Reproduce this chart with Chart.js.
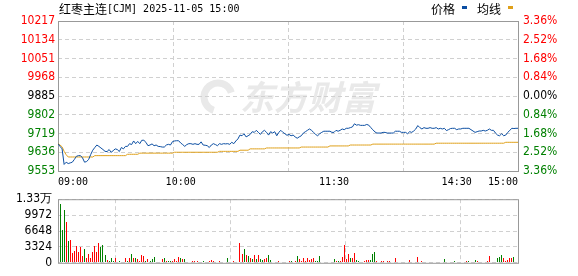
<!DOCTYPE html>
<html>
<head>
<meta charset="utf-8">
<script src="https://cdn.jsdelivr.net/npm/chart.js@4.4.1/dist/chart.umd.min.js"></script>
<style>
  html, body { margin: 0; padding: 0; background: #fff; }
  #wrap { position: relative; width: 578px; height: 276px; overflow: hidden; }
  #priceCanvas { position: absolute; left: 0; top: 0; }
  #volCanvas { position: absolute; left: 0; top: 186px; }
</style>
</head>
<body>
<div id="wrap">
  <canvas id="priceCanvas" width="578" height="196"></canvas>
  <canvas id="volCanvas" width="578" height="90"></canvas>
</div>
<script>
// 标题与图例
const titleName = "红枣主连";
const titleRest = "[CJM] 2025-11-05 15:00";
const legendNames = ["价格", "均线"];

// 价格轴 (昨收 9885)
const preClose = 9885;
const priceTicks = [9553, 9636, 9719, 9802, 9885, 9968, 10051, 10134, 10217];
const pctLabels = ["3.36%", "2.52%", "1.68%", "0.84%", "0.00%", "0.84%", "1.68%", "2.52%", "3.36%"];

// 时间轴 (分钟序号)
const timeTicks = [0, 60, 135, 195, 225];
const timeLabels = ["09:00", "10:00", "11:30", "14:30", "15:00"];
const gridTicks = [56.25, 112.5, 168.75];

// 成交量轴
const volTicks = [0, 3324, 6648, 9972, 13296];
const volLabels = ["0", "3324", "6648", "9972", "1.33万"];

// 每分钟价格
const prices = [
  9674, 9662, 9651, 9582, 9592, 9586, 9589, 9592, 9604, 9618,
  9621, 9621, 9611, 9592, 9595, 9604, 9626, 9645, 9657, 9668,
  9662, 9655, 9648, 9640, 9639, 9648, 9636, 9643, 9651, 9648,
  9639, 9657, 9651, 9662, 9662, 9674, 9670, 9686, 9674, 9684,
  9674, 9689, 9689, 9680, 9665, 9668, 9673, 9665, 9668, 9662,
  9661, 9659, 9659, 9668, 9671, 9668, 9683, 9686, 9687, 9687,
  9677, 9670, 9662, 9670, 9674, 9674, 9671, 9674, 9671, 9671,
  9682, 9668, 9667, 9665, 9657, 9668, 9674, 9670, 9665, 9674,
  9671, 9674, 9673, 9674, 9671, 9680, 9674, 9686, 9695, 9712,
  9709, 9718, 9704, 9709, 9715, 9727, 9724, 9733, 9724, 9715,
  9727, 9733, 9724, 9712, 9727, 9721, 9727, 9709, 9724, 9733,
  9724, 9718, 9711, 9715, 9709, 9712, 9704, 9698, 9704, 9709,
  9721, 9727, 9733, 9739, 9733, 9724, 9715, 9709, 9718, 9724,
  9729, 9729, 9729, 9729, 9724, 9724, 9733, 9729, 9733, 9739,
  9736, 9742, 9742, 9745, 9748, 9762, 9756, 9758, 9755, 9755,
  9755, 9759, 9756, 9745, 9736, 9726, 9721, 9721, 9721, 9724,
  9724, 9721, 9721, 9721, 9721, 9729, 9729, 9729, 9724, 9724,
  9724, 9718, 9727, 9724, 9730, 9739, 9754, 9745, 9739, 9745,
  9742, 9742, 9745, 9742, 9742, 9745, 9739, 9742, 9739, 9742,
  9732, 9736, 9741, 9742, 9742, 9736, 9739, 9739, 9742, 9742,
  9742, 9742, 9736, 9730, 9724, 9727, 9730, 9730, 9733, 9730,
  9733, 9739, 9733, 9733, 9721, 9712, 9709, 9718, 9709, 9712,
  9724, 9733, 9742, 9741, 9742, 9742
];

// 均价线
const avgPrices = [
  9674, 9668, 9660, 9640, 9625, 9615, 9615, 9615, 9615, 9615,
  9615, 9615, 9615, 9615, 9615, 9615, 9615, 9615, 9621, 9621,
  9621, 9621, 9621, 9621, 9621, 9621, 9621, 9621, 9621, 9621,
  9621, 9621, 9621, 9621, 9627, 9627, 9627, 9627, 9627, 9627,
  9632, 9632, 9632, 9632, 9632, 9632, 9632, 9632, 9632, 9632,
  9632, 9632, 9632, 9632, 9632, 9632, 9632, 9636, 9636, 9636,
  9636, 9636, 9636, 9636, 9636, 9636, 9636, 9636, 9636, 9636,
  9636, 9636, 9636, 9636, 9636, 9636, 9636, 9636, 9636, 9640,
  9640, 9640, 9640, 9640, 9640, 9640, 9640, 9640, 9640, 9645,
  9645, 9645, 9645, 9645, 9651, 9651, 9651, 9651, 9651, 9651,
  9651, 9651, 9655, 9655, 9655, 9655, 9655, 9655, 9655, 9655,
  9655, 9655, 9655, 9655, 9655, 9655, 9655, 9655, 9655, 9659,
  9659, 9659, 9659, 9659, 9659, 9659, 9659, 9659, 9659, 9659,
  9659, 9659, 9659, 9664, 9664, 9664, 9664, 9664, 9664, 9664,
  9664, 9664, 9664, 9668, 9668, 9668, 9668, 9668, 9668, 9668,
  9668, 9668, 9668, 9668, 9672, 9672, 9672, 9672, 9672, 9672,
  9672, 9672, 9672, 9672, 9672, 9672, 9672, 9672, 9672, 9672,
  9672, 9672, 9672, 9672, 9672, 9672, 9672, 9672, 9672, 9672,
  9672, 9672, 9672, 9672, 9672, 9676, 9676, 9676, 9676, 9676,
  9676, 9676, 9676, 9676, 9676, 9676, 9676, 9676, 9676, 9676,
  9676, 9676, 9676, 9676, 9676, 9676, 9676, 9676, 9676, 9676,
  9676, 9676, 9676, 9676, 9676, 9676, 9676, 9676, 9676, 9680,
  9680, 9680, 9680, 9680, 9680, 9680
];

// 每分钟成交量
const volumes = [
  0, 12220, 6770, 11140, 8625, 4490, 4790, 1977, 2515, 3590,
  2275, 3354, 1437, 2875, 1078, 1797, 900, 2336, 3594, 2336,
  4133, 3235, 3774, 1617, 540, 360, 1078, 360, 900, 180,
  360, 180, 180, 1078, 360, 1078, 1797, 1078, 1078, 720,
  360, 1617, 1437, 360, 720, 360, 720, 1258, 180, 180,
  180, 720, 900, 360, 360, 360, 360, 720, 360, 1200,
  1078, 720, 720, 180, 180, 180, 360, 360, 360, 180,
  180, 360, 180, 180, 360, 540, 360, 180, 180, 360,
  180, 180, 180, 1078, 180, 180, 360, 180, 180, 4133,
  1797, 2875, 1617, 1437, 1078, 720, 1617, 720, 1617, 720,
  540, 720, 1078, 1617, 540, 180, 180, 180, 360, 180,
  180, 180, 180, 360, 360, 180, 360, 1437, 720, 360,
  900, 360, 900, 540, 720, 1078, 360, 360, 1437, 180,
  180, 180, 180, 180, 180, 720, 360, 360, 360, 1258,
  3774, 720, 1797, 1078, 1078, 1977, 540, 360, 180, 180,
  360, 540, 540, 540, 1797, 2157, 360, 180, 360, 360,
  180, 360, 360, 180, 180, 900, 180, 180, 180, 180,
  180, 180, 540, 180, 180, 180, 1258, 180, 360, 180,
  180, 180, 180, 180, 180, 180, 180, 180, 180, 720,
  180, 180, 180, 180, 360, 180, 180, 180, 180, 180,
  360, 360, 180, 180, 540, 360, 180, 180, 180, 180,
  360, 1437, 180, 180, 180, 1078, 1258, 1617, 1078, 360,
  540, 900, 900, 1258, 180, 1617
];

// 涨(1)/跌(0)
const volUp = [
  1, 0, 0, 0, 1, 0, 1, 1, 1, 1,
  1, 1, 1, 0, 1, 1, 1, 1, 1, 1,
  1, 0, 0, 0, 1, 0, 0, 0, 1, 1,
  0, 0, 1, 1, 0, 1, 0, 1, 0, 1,
  1, 1, 1, 0, 1, 0, 0, 0, 1, 1,
  1, 1, 0, 1, 0, 0, 1, 1, 1, 1,
  0, 1, 0, 1, 1, 1, 1, 1, 1, 1,
  0, 0, 1, 1, 1, 1, 1, 1, 1, 1,
  1, 1, 1, 0, 1, 1, 1, 1, 1, 1,
  1, 0, 1, 0, 1, 0, 1, 0, 1, 0,
  0, 1, 1, 0, 0, 1, 1, 1, 1, 1,
  1, 1, 1, 1, 0, 1, 1, 0, 1, 1,
  1, 1, 1, 1, 1, 1, 0, 0, 0, 1,
  1, 1, 1, 1, 1, 0, 1, 0, 1, 1,
  1, 1, 1, 0, 1, 1, 0, 0, 1, 1,
  1, 1, 1, 0, 0, 0, 1, 0, 1, 1,
  1, 1, 1, 1, 1, 1, 1, 1, 1, 1,
  1, 1, 1, 0, 1, 1, 1, 1, 1, 1,
  1, 1, 1, 1, 1, 1, 1, 1, 1, 0,
  1, 1, 1, 1, 0, 1, 1, 1, 1, 1,
  1, 0, 0, 1, 0, 1, 1, 1, 1, 1,
  1, 1, 1, 1, 1, 0, 0, 0, 1, 1,
  1, 1, 1, 0, 1, 1
];

// 颜色
const upColor = "#ff0000";
const downColor = "#008000";
const priceColor = "#0b4ea2";
const avgColor = "#dfa01a";
const gridColor = "#d0d0d0";
const boxColor = "#999999";
const labelFont = { family: "'DejaVu Sans Condensed', 'Liberation Sans', sans-serif", size: 12 };
const timeFont = { family: "'DejaVu Sans Mono', monospace", size: 10 };

function tickColor(ctx) {
  const v = ctx.tick.value;
  if (v > preClose) return upColor;
  if (v < preClose) return downColor;
  return "#000";
}

// 面板边框
const panelBox = {
  id: "panelBox",
  beforeDatasetsDraw(chart) {
    const { ctx, chartArea: a } = chart;
    ctx.save();
    ctx.strokeStyle = boxColor;
    ctx.lineWidth = 1;
    ctx.strokeRect(a.left + 0.5, a.top + 0.5, a.right - a.left, a.bottom - a.top);
    ctx.restore();
  }
};

// 成交量柱对齐像素
const crispBars = {
  id: "crispBars",
  beforeDatasetsDraw(chart) {
    chart.getDatasetMeta(0).data.forEach(bar => {
      bar.x = Math.floor(bar.x) + 0.5;
      bar.y = Math.round(bar.y);
      bar.base = Math.round(bar.base);
    });
  }
};

// 水印
const watermark = {
  id: "watermark",
  beforeDraw(chart) {
    const ctx = chart.ctx;
    ctx.save();
    ctx.fillStyle = "#e9e9e9";
    ctx.strokeStyle = "#e9e9e9";
    ctx.lineWidth = 7;
    ctx.beginPath();
    ctx.arc(218, 97, 14, Math.PI * 0.6, Math.PI * 1.9);
    ctx.stroke();
    ctx.font = "bold italic 34px 'Noto Sans CJK SC'";
    ctx.textBaseline = "middle";
    ctx.fillText("东方财富", 240, 97);
    ctx.restore();
  }
};

// 标题和图例
const header = {
  id: "header",
  afterDraw(chart) {
    const ctx = chart.ctx;
    ctx.save();
    ctx.fillStyle = "#000";
    ctx.textBaseline = "middle";
    ctx.font = "12px 'Noto Sans CJK SC'";
    ctx.fillText(titleName, 59, 9);
    const w = ctx.measureText(titleName).width;
    ctx.font = "10px 'DejaVu Sans Mono'";
    ctx.fillText(titleRest, 59 + w, 9);
    ctx.font = "12px 'Noto Sans CJK SC'";
    ctx.fillText(legendNames[0], 431, 9);
    ctx.fillText(legendNames[1], 477, 9);
    ctx.fillStyle = priceColor;
    ctx.fillRect(462, 6, 5, 3);
    ctx.fillStyle = avgColor;
    ctx.fillRect(508, 6, 5, 3);
    ctx.restore();
  }
};

const setTicks = list => scale => { scale.ticks = list.map(v => ({ value: v })); };

new Chart(document.getElementById("priceCanvas"), {
  type: "line",
  data: {
    datasets: [
      {
        label: legendNames[0],
        data: prices.map((v, i) => ({ x: i, y: v })),
        borderColor: priceColor,
        borderWidth: 1,
        pointRadius: 0,
        tension: 0,
        order: 1
      },
      {
        label: legendNames[1],
        data: avgPrices.map((v, i) => ({ x: i, y: v })),
        borderColor: avgColor,
        borderWidth: 1,
        pointRadius: 0,
        tension: 0,
        order: 2
      }
    ]
  },
  options: {
    responsive: false,
    animation: false,
    layout: { padding: { top: 21, left: 0, right: 0, bottom: 0 } },
    plugins: { legend: { display: false }, tooltip: { enabled: false } },
    scales: {
      x: {
        type: "linear", min: 0, max: 225, offset: false,
        afterBuildTicks: setTicks(timeTicks),
        afterFit: s => { s.height = 25; },
        grid: { display: false, drawTicks: false },
        border: { display: false },
        ticks: {
          align: "inner", maxRotation: 0, autoSkip: false, padding: 5,
          color: "#000", font: timeFont,
          callback: v => timeLabels[timeTicks.indexOf(v)]
        }
      },
      xg: {
        type: "linear", position: "bottom", min: 0, max: 225, offset: false,
        afterBuildTicks: setTicks(gridTicks),
        afterFit: s => { s.height = 0; },
        grid: { color: gridColor, drawTicks: false },
        border: { display: false, dash: [4, 3] },
        ticks: { display: false }
      },
      y: {
        position: "left", min: 9553, max: 10217,
        afterBuildTicks: setTicks(priceTicks),
        afterFit: s => { s.width = 58; },
        grid: { color: gridColor, drawTicks: false },
        border: { display: false, dash: [4, 3] },
        ticks: { padding: 3, autoSkip: false, color: tickColor, font: labelFont, callback: v => String(v) }
      },
      y2: {
        position: "right", min: 9553, max: 10217,
        afterBuildTicks: setTicks(priceTicks),
        afterFit: s => { s.width = 60; },
        grid: { display: false, drawTicks: false },
        border: { display: false },
        ticks: {
          padding: 5, autoSkip: false, color: tickColor, font: labelFont,
          callback: v => pctLabels[priceTicks.indexOf(v)]
        }
      }
    }
  },
  plugins: [watermark, panelBox, header]
});

new Chart(document.getElementById("volCanvas"), {
  type: "bar",
  data: {
    datasets: [{
      data: volumes.map((v, i) => ({ x: i, y: v })),
      backgroundColor: volUp.map(u => (u ? upColor : downColor)),
      barThickness: 1,
      inflateAmount: 0,
      borderWidth: 0
    }]
  },
  options: {
    responsive: false,
    animation: false,
    layout: { padding: { top: 10, left: 0, right: 60, bottom: 6 } },
    plugins: { legend: { display: false }, tooltip: { enabled: false } },
    scales: {
      x: {
        type: "linear", min: 0, max: 225, offset: false,
        afterBuildTicks: setTicks(gridTicks),
        afterFit: s => { s.height = 0; },
        grid: { color: gridColor, drawTicks: false },
        border: { display: false, dash: [4, 3] },
        ticks: { display: false }
      },
      y: {
        min: 0, max: 13296,
        afterBuildTicks: setTicks(volTicks),
        afterFit: s => { s.width = 58; },
        grid: { color: gridColor, drawTicks: false },
        border: { display: false, dash: [4, 3] },
        ticks: {
          padding: 6, autoSkip: false, color: "#000", font: labelFont,
          callback: v => volLabels[volTicks.indexOf(v)]
        }
      }
    }
  },
  plugins: [panelBox, crispBars]
});
</script>
</body>
</html>
